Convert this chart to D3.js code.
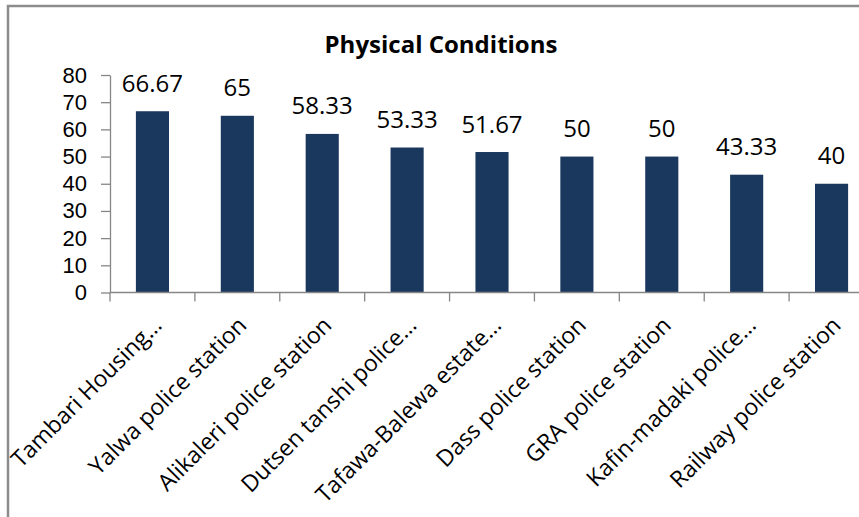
<!DOCTYPE html>
<html>
<head>
<meta charset="utf-8">
<script src="https://cdn.jsdelivr.net/npm/d3@7"></script>
<style>
  html, body { margin: 0; padding: 0; background: #fff; overflow: hidden; }
  text { font-family: "Open Sans", sans-serif; fill: #000; }
</style>
</head>
<body>
<svg id="chart" width="859" height="517"></svg>
<script>
const title = "Physical Conditions";
const categories = [
  "Tambari Housing…",
  "Yalwa police station",
  "Alikaleri police station",
  "Dutsen tanshi police…",
  "Tafawa-Balewa estate…",
  "Dass police station",
  "GRA police station",
  "Kafin-madaki police…",
  "Railway police station"
];
const values = [66.67, 65, 58.33, 53.33, 51.67, 50, 50, 43.33, 40];
const valueLabels = ["66.67", "65", "58.33", "53.33", "51.67", "50", "50", "43.33", "40"];
const yTicks = [0, 10, 20, 30, 40, 50, 60, 70, 80];

const svg = d3.select("#chart");
const axisColor = "#868686";
const barColor = "#1a375e";

// chart frame (extends past the right and bottom edges)
svg.append("rect")
  .attr("x", 8).attr("y", 6)
  .attr("width", 900).attr("height", 600)
  .attr("fill", "none").attr("stroke", "#8c8c8c").attr("stroke-width", 2.5);

const plot = { left: 110, right: 874, top: 75, bottom: 292.5 };

const x = d3.scaleBand()
  .domain(categories)
  .range([plot.left, plot.right])
  .paddingInner(0.61)
  .paddingOuter(0.305);

const y = d3.scaleLinear().domain([0, 80]).range([plot.bottom, plot.top]);

// title
svg.append("text")
  .attr("x", 441).attr("y", 53)
  .attr("text-anchor", "middle")
  .style("font-size", "24px").style("font-weight", "bold")
  .text(title);

// bars
svg.append("g").selectAll("rect")
  .data(values)
  .join("rect")
  .attr("x", (d, i) => x(categories[i]))
  .attr("width", x.bandwidth())
  .attr("y", d => y(d))
  .attr("height", d => y(0) - y(d))
  .attr("fill", barColor);

// value labels
svg.append("g").selectAll("text")
  .data(values)
  .join("text")
  .attr("x", (d, i) => x(categories[i]) + x.bandwidth() / 2)
  .attr("y", d => y(d) - 19.5)
  .attr("text-anchor", "middle")
  .style("font-size", "24px")
  .text((d, i) => valueLabels[i]);

// y axis
const yAxis = svg.append("g")
  .attr("transform", `translate(${plot.left},0)`)
  .call(d3.axisLeft(y).tickValues(yTicks).tickSize(9).tickPadding(14).tickSizeOuter(0));
yAxis.select(".domain").attr("stroke", axisColor).attr("stroke-width", 1.3);
yAxis.selectAll(".tick line").attr("stroke", axisColor).attr("stroke-width", 1.3);
yAxis.selectAll(".tick text")
  .style("font-size", "22px")
  .style("font-family", "'Liberation Sans', Arial, sans-serif")
  .attr("fill", "#000");

// x axis: baseline + boundary ticks
const xg = svg.append("g");
xg.append("line")
  .attr("x1", plot.left).attr("x2", plot.right)
  .attr("y1", y(0)).attr("y2", y(0))
  .attr("stroke", axisColor).attr("stroke-width", 1.3);
const step = x.step();
const boundaries = d3.range(categories.length + 1).map(i => plot.left + i * step);
xg.selectAll("line.tk")
  .data(boundaries)
  .join("line")
  .attr("class", "tk")
  .attr("x1", d => d).attr("x2", d => d)
  .attr("y1", y(0)).attr("y2", y(0) + 9)
  .attr("stroke", axisColor).attr("stroke-width", 1.3);

// category labels rotated -45
xg.selectAll("text")
  .data(categories)
  .join("text")
  .attr("transform", d => `translate(${x(d) + x.bandwidth() / 2 + 5},${321}) rotate(-45)`)
  .attr("text-anchor", "end")
  .attr("dy", "0.35em")
  .style("font-size", "23px")
  .text(d => d);
</script>
</body>
</html>
